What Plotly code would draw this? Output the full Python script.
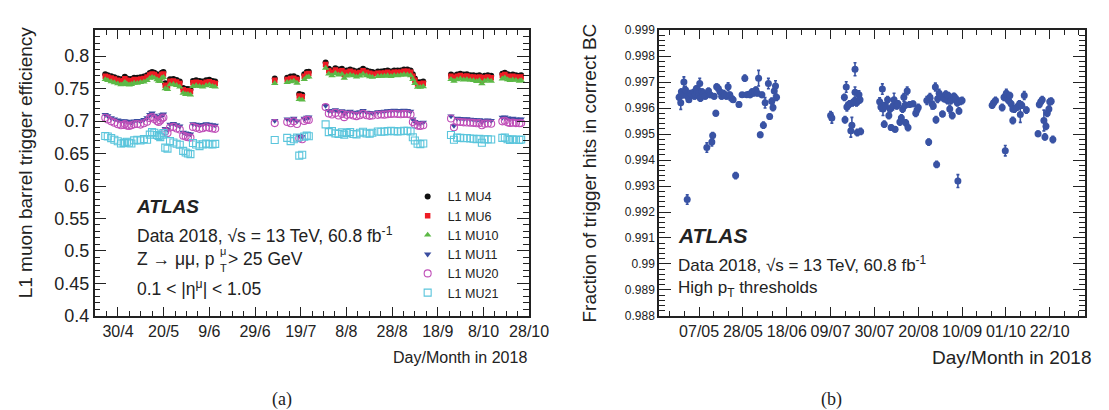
import numpy as np
import pandas as pd
import plotly.graph_objects as go

W, H = 1109, 410

# ---------------- panel (a): L1 muon barrel trigger efficiency ----------------
# day of year 2018 of each run
day_a = [114.4, 115.5, 117.0, 118.4, 119.9, 121.3, 122.5, 123.0, 123.9, 124.9, 125.9, 127.1, 128.5, 129.9,
         131.4, 132.8, 134.0, 135.0, 136.0, 137.2, 137.9, 138.6, 139.3, 140.0, 140.8, 141.8, 142.9, 144.4,
         145.8, 147.2, 148.7, 149.8, 150.8, 151.9, 153.0, 154.4, 155.9, 157.3, 158.8, 160.2, 161.6, 162.8,
         189.0, 194.5, 196.0, 197.4, 198.8, 199.8, 201.1, 202.0, 203.1, 204.0,
         211.4, 212.8, 214.2, 215.7, 217.1, 218.6, 219.6, 220.7, 222.2, 223.6, 225.0, 226.5, 227.9, 229.4,
         230.8, 232.0, 234.4, 235.9, 237.3, 238.7, 240.2, 241.6, 243.1, 244.5, 245.9, 247.4, 248.8, 249.8,
         250.7, 251.9, 253.1, 254.4,
         266.6, 267.9, 269.3, 270.7, 272.2, 273.6, 275.1, 276.5, 277.9, 279.1, 280.2, 281.4, 282.8, 284.3,
         289.2, 290.3, 291.5, 292.6, 293.8, 295.2, 296.7, 297.5]

mu4 = [.7720, .7705, .7690, .7675, .7656, .7641, .7646, .7680, .7656, .7641, .7646, .7666, .7666, .7675,
       .7685, .7705, .7740, .7754, .7744, .7720, .7695, .7695, .7744, .7754, .7582, .7568, .7641, .7646,
       .7631, .7607, .7508, .7494, .7494, .7484, .7616, .7626, .7616, .7607, .7626, .7636, .7616, .7607,
       .7656, .7666, .7685, .7690, .7666, .7415, .7405, .7720, .7754, .7760,
       .7901, .7803, .7779, .7813, .7793, .7803, .7744, .7779, .7793, .7779, .7764, .7779, .7803, .7779,
       .7764, .7754, .7764, .7764, .7769, .7779, .7764, .7779, .7779, .7779, .7793, .7793, .7779, .7720,
       .7656, .7598, .7598, .7607,
       .7715, .7695, .7715, .7729, .7715, .7720, .7705, .7705, .7695, .7705, .7656, .7695, .7705, .7695,
       .7729, .7744, .7720, .7705, .7715, .7705, .7695, .7705]

mu6 = [.7690, .7678, .7662, .7645, .7628, .7612, .7618, .7650, .7627, .7612, .7620, .7638, .7635, .7646,
       .7655, .7677, .7710, .7725, .7716, .7690, .7668, .7665, .7715, .7725, .7552, .7540, .7612, .7617,
       .7602, .7578, .7480, .7465, .7466, .7455, .7588, .7597, .7588, .7578, .7598, .7606, .7588, .7578,
       .7628, .7640, .7655, .7660, .7638, .7385, .7375, .7690, .7725, .7730,
       .7870, .7775, .7750, .7785, .7765, .7772, .7715, .7750, .7765, .7750, .7735, .7748, .7775, .7750,
       .7735, .7725, .7736, .7735, .7740, .7750, .7735, .7750, .7752, .7750, .7765, .7765, .7750, .7690,
       .7628, .7570, .7570, .7580,
       .7688, .7665, .7688, .7700, .7685, .7692, .7678, .7676, .7665, .7678, .7628, .7668, .7678, .7665,
       .7700, .7715, .7690, .7676, .7688, .7678, .7668, .7676]

mu10 = [.7640, .7625, .7608, .7592, .7575, .7560, .7565, .7598, .7572, .7558, .7565, .7585, .7583, .7595,
        .7603, .7625, .7660, .7672, .7664, .7638, .7615, .7612, .7662, .7672, .7500, .7488, .7560, .7565,
        .7550, .7525, .7428, .7412, .7413, .7402, .7535, .7545, .7535, .7525, .7545, .7555, .7535, .7525,
        .7580, .7595, .7605, .7615, .7585, .7335, .7325, .7640, .7675, .7680,
        .7815, .7725, .7700, .7735, .7712, .7720, .7660, .7695, .7710, .7698, .7680, .7695, .7722, .7700,
        .7685, .7675, .7688, .7690, .7692, .7700, .7688, .7702, .7700, .7705, .7715, .7712, .7700, .7640,
        .7580, .7520, .7520, .7530,
        .7640, .7615, .7638, .7650, .7635, .7640, .7628, .7625, .7612, .7625, .7575, .7615, .7628, .7615,
        .7650, .7665, .7638, .7625, .7635, .7628, .7615, .7625]

mu11 = [.7100, .7080, .7047, .7030, .7015, .6998, .6998, .7000, .6995, .6988, .6983, .6998, .7007, .6998,
        .7022, .7047, .7100, .7120, .7085, .7060, .7047, .7070, .7096, .7105, .6884, .6870, .6950, .6960,
        .6940, .6920, .6826, .6815, .6805, .6800, .6958, .6948, .6934, .6945, .6958, .6950, .6940, .6934,
        .7007, .7030, .7010, .7040, .7000, .6775, .6760, .7040, .7056, .7060,
        .7238, .7160, .7150, .7170, .7145, .7155, .7120, .7140, .7150, .7135, .7125, .7140, .7160, .7135,
        .7130, .7125, .7140, .7145, .7150, .7155, .7160, .7165, .7160, .7158, .7165, .7160, .7150, .7030,
        .6990, .6975, .6970, .6980,
        .7076, .6930, .7040, .7035, .7030, .7032, .7025, .7020, .7015, .7018, .6990, .7010, .7012, .7008,
        .7055, .7060, .7045, .7035, .7040, .7030, .7025, .7030]

mu20 = [.7050, .7025, .6995, .6975, .6950, .6935, .6940, .6955, .6930, .6925, .6935, .6950, .6955, .6945,
        .6965, .6990, .7045, .7060, .7030, .7000, .6985, .7010, .7040, .7055, .6840, .6815, .6900, .6910,
        .6885, .6870, .6775, .6760, .6750, .6745, .6910, .6895, .6880, .6890, .6905, .6895, .6885, .6880,
        .6968, .6985, .6965, .6995, .6955, .6735, .6720, .7000, .7020, .7015,
        .7214, .7115, .7100, .7125, .7085, .7110, .7060, .7095, .7100, .7085, .7075, .7090, .7110, .7090,
        .7080, .7085, .7095, .7100, .7098, .7105, .7110, .7112, .7108, .7105, .7110, .7108, .7100, .6985,
        .6945, .6930, .6925, .6935,
        .7040, .6905, .6990, .6985, .6980, .6978, .6975, .6972, .6965, .6968, .6935, .6960, .6962, .6958,
        .6995, .7005, .6980, .6970, .6975, .6968, .6965, .6968]

mu21 = [.6770, .6762, .6737, .6713, .6688, .6654, .6660, .6670, .6680, .6665, .6654, .6703, .6713, .6703,
        .6722, .6713, .6790, .6830, .6820, .6786, .6770, .6752, .6790, .6815, .6590, .6575, .6690, .6670,
        .6650, .6635, .6541, .6515, .6500, .6491, .6663, .6639, .6614, .6640, .6654, .6645, .6639, .6649,
        .6708, .6740, .6690, .6720, .6745, .6467, .6480, .6760, .6775, .6765,
        .6948, .6830, .6845, .6810, .6800, .6825, .6790, .6815, .6830, .6800, .6795, .6820, .6835, .6810,
        .6805, .6820, .6840, .6835, .6840, .6845, .6850, .6845, .6840, .6842, .6850, .6848, .6840, .6750,
        .6700, .6650, .6645, .6655,
        .6786, .6713, .6745, .6740, .6735, .6738, .6730, .6728, .6722, .6725, .6665, .6718, .6720, .6715,
        .6740, .6745, .6720, .6710, .6718, .6712, .6708, .6715]

series_a = [
    ("L1 MU4", mu4, "circle", "#111111", 6),
    ("L1 MU6", mu6, "square", "#ee1c25", 5.5),
    ("L1 MU10", mu10, "triangle-up", "#5cb946", 6.5),
    ("L1 MU11", mu11, "triangle-down", "#3a4da0", 6.5),
    ("L1 MU20", mu20, "circle-open", "#c04fb8", 7),
    ("L1 MU21", mu21, "square-open", "#5bc5dc", 7),
]

# ---------------- panel (b): fraction of trigger hits in correct BC ----------------
day_b = [117.4, 118.2, 118.5, 119.0, 119.7, 120.5, 121.3, 121.3, 122.1, 122.6, 122.9, 123.7, 124.4, 124.8,
         125.2, 125.7, 126.0, 126.8, 127.3, 127.6, 128.4, 129.1, 129.9, 130.7, 131.5, 132.3, 133.1, 133.5,
         134.2, 135.0, 135.4, 136.2, 137.0, 137.8, 138.6, 139.3, 140.1, 140.9, 141.7, 142.5, 143.3, 144.5,
         146.1, 147.6, 148.9, 149.8, 150.8, 151.4, 152.4, 153.0, 153.6, 154.2, 154.9, 155.5, 156.3, 157.1,
         157.8, 158.6, 160.2, 160.8, 161.8, 162.4, 163.0, 163.6, 164.1,
         190.0, 190.6, 196.6, 196.9, 197.5, 197.8, 198.4, 199.1, 199.7, 200.2, 200.5, 201.3, 201.7, 201.7,
         202.4, 202.8, 203.3, 203.6, 204.1, 204.4,
         213.5, 214.1, 214.8, 215.1, 215.7, 216.3, 217.3, 217.9, 218.5, 219.0, 219.8, 220.4, 220.9, 221.7,
         222.3, 223.2, 223.9, 224.5, 225.1, 225.7, 226.0, 226.7, 227.1, 227.9, 229.5, 230.8, 231.4, 232.0,
         236.1, 237.0, 237.6, 238.6, 239.2, 240.2, 240.5, 240.8, 241.3, 242.0, 242.8, 243.6, 244.4, 245.2,
         246.0, 246.4, 247.1, 247.7, 248.3, 249.1, 249.9, 250.7, 251.0, 251.5, 252.2, 253.0,
         267.4, 268.1, 269.0, 272.2, 273.1, 273.7, 274.2, 274.7, 275.3, 275.9, 276.5, 277.3, 277.3, 278.1,
         279.4, 280.5, 280.9, 281.6, 282.8, 283.8,
         289.4, 290.0, 290.7, 291.4, 292.2, 292.7, 293.2, 293.8, 294.6, 295.0, 295.7, 296.5]

frac_b = [.99641, .99620, .99663, .99651, .99700, .99669, .99645, .99248, .99632, .99651, .99657, .99651, .99661, .99645,
          .99653, .99675, .99663, .99657, .99694, .99638, .99663, .99657, .99645, .99448, .99666, .99651, .99469, .99494,
          .99645, .99580, .99682, .99675, .99663, .99645, .99657, .99651, .99645, .99682, .99651, .99638, .99632, .99340,
          .99614, .99651, .99715, .99651, .99653, .99651, .99663, .99657, .99663, .99669, .99657, .99715, .99497, .99651,
          .99534, .99620, .99694, .99567, .99626, .99602, .99666, .99685, .99641,
          .99571, .99562, .99641, .99555, .99681, .99604, .99611, .99616, .99513, .99534, .99620, .99626, .99749, .99661,
          .99620, .99506, .99629, .99651, .99632, .99510,
          .99624, .99604, .99673, .99596, .99538, .99608, .99632, .99571, .99596, .99525, .99608, .99632, .99518, .99608,
          .99616, .99546, .99562, .99596, .99641, .99611, .99543, .99666, .99525, .99614, .99616, .99580, .99592, .99602,
          .99629, .99469, .99641, .99616, .99608, .99681, .99555, .99383, .99636, .99657, .99645, .99577, .99636, .99653,
          .99629, .99648, .99596, .99629, .99571, .99645, .99638, .99620, .99319, .99589, .99626, .99629,
          .99611, .99620, .99629, .99602, .99641, .99436, .99657, .99636, .99629, .99648, .99616, .99596, .99552, .99596,
          .99604, .99616, .99575, .99611, .99648, .99592,
          .99501, .99614, .99624, .99632, .99552, .99489, .99530, .99580, .99596, .99624, .99626, .99479]

err_b = [.00012, .00025, .00010, .00012, .00020, .00015, .00012, .00018, .00010, .00010, .00010, .00012, .00010, .00010,
         .00012, .00010, .00010, .00012, .00020, .00012, .00010, .00010, .00010, .00018, .00010, .00010, .00015, .00012,
         .00010, .00010, .00010, .00012, .00010, .00010, .00010, .00010, .00010, .00015, .00010, .00010, .00010, .00012,
         .00010, .00008, .00012, .00008, .00008, .00010, .00010, .00010, .00012, .00012, .00010, .00030, .00010, .00010,
         .00012, .00020, .00020, .00010, .00012, .00012, .00020, .00020, .00012,
         .00015, .00020, .00012, .00012, .00020, .00015, .00012, .00012, .00025, .00030, .00012, .00012, .00025, .00020,
         .00012, .00012, .00012, .00015, .00012, .00012,
         .00015, .00015, .00020, .00025, .00012, .00012, .00012, .00012, .00012, .00010, .00015, .00025, .00010, .00012,
         .00012, .00012, .00012, .00012, .00015, .00012, .00012, .00015, .00012, .00010, .00010, .00012, .00012, .00012,
         .00015, .00012, .00015, .00020, .00012, .00015, .00012, .00012, .00015, .00015, .00012, .00010, .00012, .00012,
         .00012, .00012, .00015, .00012, .00012, .00012, .00012, .00012, .00025, .00012, .00012, .00012,
         .00012, .00012, .00012, .00012, .00012, .00020, .00015, .00015, .00012, .00012, .00012, .00010, .00012, .00012,
         .00012, .00012, .00030, .00012, .00015, .00012,
         .00010, .00012, .00012, .00012, .00040, .00012, .00012, .00012, .00012, .00012, .00012, .00012]

tick_a_labels = ["30/4", "20/5", "9/6", "29/6", "19/7", "8/8", "28/8", "18/9", "8/10", "28/10"]
tick_b_labels = ["07/05", "28/05", "18/06", "09/07", "30/07", "20/08", "10/09", "01/10", "22/10"]
ytick_a = [0.4, 0.45, 0.5, 0.55, 0.6, 0.65, 0.7, 0.75, 0.8]
ytick_a_text = ["0.4", "0.45", "0.5", "0.55", "0.6", "0.65", "0.7", "0.75", "0.8"]
ytick_b = [0.988, 0.989, 0.99, 0.991, 0.992, 0.993, 0.994, 0.995, 0.996, 0.997, 0.998, 0.999]
ytick_b_text = ["0.988", "0.989", "0.99", "0.991", "0.992", "0.993", "0.994", "0.995", "0.996", "0.997", "0.998", "0.999"]


def doy_to_date(d):
    return pd.Timestamp("2018-01-01") + pd.to_timedelta(np.asarray(d, dtype=float) - 1.0, unit="D")


DAY_MS = 86400000.0
# (a) axis: labels every 181/9 days from 30/4 to 28/10
step_a = pd.Timedelta(days=181 / 9)
ticks_a = [pd.Timestamp("2018-04-30") + k * step_a for k in range(len(tick_a_labels))]
ticks_b = [pd.Timestamp("2018-05-07") + pd.Timedelta(days=21 * k) for k in range(len(tick_b_labels))]

FONT = "Liberation Sans, Arial, Helvetica, sans-serif"
AXC = "#222222"

fig = go.Figure()

xa = doy_to_date(day_a)
for name, vals, sym, col, size in series_a:
    open_sym = sym.endswith("open")
    fig.add_trace(go.Scatter(
        x=xa, y=vals, mode="markers", name=name, xaxis="x", yaxis="y",
        marker=dict(symbol=sym, color=col, size=size,
                    line=dict(width=1.1 if open_sym else 0, color=col)),
    ))

fig.add_trace(go.Scatter(
    x=doy_to_date(day_b), y=frac_b, mode="markers", showlegend=False, xaxis="x2", yaxis="y2",
    marker=dict(symbol="circle", color="#3953a4", size=7),
    error_y=dict(type="data", array=err_b, color="#3953a4", thickness=1.6, width=1.5),
))

dom_a = [88.3 / W, 530.7 / W]
dom_b = [663.0 / W, 1097.0 / W]
dom_y = [1 - 314.0 / H, 1 - 15.7 / H]

common = dict(showgrid=False, zeroline=False, showline=True, linecolor=AXC, linewidth=1.5,
              mirror="ticks", ticks="inside", tickcolor=AXC, tickwidth=1.3)

fig.update_layout(
    width=W, height=H, margin=dict(l=0, r=0, t=0, b=0),
    paper_bgcolor="white", plot_bgcolor="white",
    font=dict(family=FONT, color="#222222"),
    xaxis=dict(domain=dom_a, anchor="y", type="date",
               range=[doy_to_date([109.75])[0], doy_to_date([301.0])[0]],
               tickvals=ticks_a, ticktext=tick_a_labels, ticklen=9,
               tickfont=dict(size=16),
               minor=dict(ticks="inside", ticklen=5, tickcolor=AXC, tickwidth=1.2,
                          tick0="2018-04-30", dtick=181 / 9 / 4 * DAY_MS),
               **common),
    yaxis=dict(domain=dom_y, anchor="x", range=[0.4, 0.84],
               tickvals=ytick_a, ticktext=ytick_a_text, ticklen=12,
               tickfont=dict(size=18),
               minor=dict(ticks="inside", ticklen=6, tickcolor=AXC, tickwidth=1.2, tick0=0.4, dtick=0.01),
               **common),
    xaxis2=dict(domain=dom_b, anchor="y2", type="date",
                range=[doy_to_date([107.8])[0], doy_to_date([312.0])[0]],
                tickvals=ticks_b, ticktext=tick_b_labels, ticklen=9,
                tickfont=dict(size=16),
                minor=dict(ticks="inside", ticklen=5, tickcolor=AXC, tickwidth=1.2,
                           tick0="2018-05-07", dtick=7 * DAY_MS),
                **common),
    yaxis2=dict(domain=dom_y, anchor="x2", range=[0.988, 0.999],
                tickvals=ytick_b, ticktext=ytick_b_text, ticklen=12,
                tickfont=dict(size=12),
                minor=dict(ticks="inside", ticklen=6, tickcolor=AXC, tickwidth=1.2, tick0=0.988, dtick=0.0002),
                **common),
    legend=dict(x=407 / W, y=1 - 174 / H, xanchor="left", yanchor="top",
                bgcolor="rgba(0,0,0,0)", borderwidth=0, tracegroupgap=0,
                font=dict(size=12.5, family=FONT, color="#222222"), itemwidth=30),
    showlegend=True,
)


def ann(text, x, y, size, xanchor="left", angle=0, bold_italic=False, family=FONT):
    t = f"<b><i>{text}</i></b>" if bold_italic else text
    fig.add_annotation(text=t, x=x / W, y=1 - y / H, xref="paper", yref="paper",
                       xanchor=xanchor, yanchor="middle", showarrow=False, textangle=angle,
                       font=dict(size=size, family=family, color="#222222"))


# axis titles
ann("L1 muon barrel trigger efficiency", 18, 154, 19, xanchor="center", angle=-90)
ann("Day/Month in 2018", 531, 357, 16, xanchor="right")
ann("Fraction of trigger hits in correct BC", 592, 165, 19, xanchor="center", angle=-90)
ann("Day/Month in 2018", 1106, 357, 19, xanchor="right")

# panel (a) labels
ann("ATLAS", 128, 200, 19, bold_italic=True)
ann("Data 2018, √s = 13 TeV, 60.8 fb<sup>-1</sup>", 129, 230, 17.5)
ann("Z → μμ, p", 213, 255, 17.5, xanchor="right")
ann("μ", 213.5, 246, 11)
ann("T", 213.5, 264, 11)
ann("> 25 GeV", 222, 255, 17.5)
ann("0.1 < |η<sup>μ</sup>| < 1.05", 129, 285, 17.5)

# panel (b) labels
ann("ATLAS", 680, 230, 21, bold_italic=True)
ann("Data 2018, √s = 13 TeV, 60.8 fb<sup>-1</sup>", 680, 260, 17)
ann("High p<sub>T</sub> thresholds", 680, 286, 17)

ann("(a)", 279, 401, 18, xanchor="center", family="Liberation Serif, Times New Roman, serif")
ann("(b)", 839, 401, 18, xanchor="center", family="Liberation Serif, Times New Roman, serif")

fig.write_html("out.html")
